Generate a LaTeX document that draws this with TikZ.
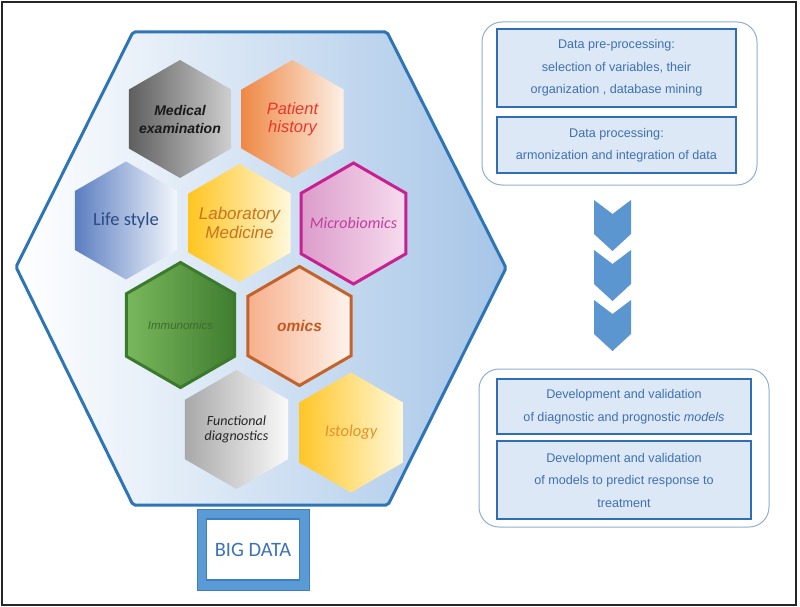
\documentclass[tikz,border=0pt]{standalone}
\usepackage{fontspec}
\setmainfont{Liberation Sans}
\newfontfamily\calibri{Carlito}
\usetikzlibrary{shapes.geometric}

\definecolor{frameblue}{HTML}{2E75B6}
\definecolor{bgblue}{HTML}{A6C5E7}
\definecolor{boxblue}{HTML}{2F6DB5}
\definecolor{boxfill}{HTML}{DCE8F5}
\definecolor{boxtext}{HTML}{4070B0}
\definecolor{groupline}{HTML}{8FAED3}
\definecolor{chevblue}{HTML}{5B96D0}
\definecolor{bigblue}{HTML}{5B9BD5}
\definecolor{bigline}{HTML}{3F7FC0}

\tikzset{
  hexa/.style={regular polygon, regular polygon sides=6, shape border rotate=30,
    minimum size=#1, inner sep=0pt},
  hexa/.default=118pt,
  hexlabel/.style={inner sep=0pt, align=center},
  infobox/.style={draw=boxblue, line width=2.5pt, fill=boxfill, text=boxtext,
    align=center, inner sep=0pt, font=\fontsize{12.6}{22.5}\selectfont},
  groupbox/.style={draw=groupline, line width=1pt, rounded corners=20pt}
}

\begin{document}
\begin{tikzpicture}[x=1pt,y=-1pt]
\useasboundingbox (0,0) rectangle (800,607);
\draw[line width=2.5pt, draw=black!85] (2,2) rectangle (796,605);

% big hexagon
\draw[line width=3pt, draw=frameblue, left color=white, right color=bgblue, rounded corners=2pt]
  (133,32) -- (387,32) -- (506,268) -- (388,505) -- (133,505) -- (16,267) -- cycle;

\node[hexa, left color=black!63, right color=black!19] (medical) at (180,119) {};
\node[hexlabel, text=black!90, font=\fontsize{14}{18}\selectfont\bfseries\itshape] (medicaltxt) at (medical) {Medical\\examination};
\node[hexa, left color={rgb,255:red,238;green,136;blue,69}, right color={rgb,255:red,253;green,240;blue,230}] (patient) at (292.5,119) {};
\node[hexlabel, text={rgb,255:red,232;green,56;blue,44}, font=\fontsize{16.5}{18}\selectfont\itshape] (patienttxt) at (patient) {Patient\\history};
\node[hexa, left color={rgb,255:red,91;green,126;blue,193}, right color={rgb,255:red,244;green,247;blue,252}] (lifestyle) at (126,220.5) {};
\node[hexlabel, text={rgb,255:red,43;green,75;blue,133}, font=\calibri\fontsize{18.5}{20}\selectfont] (lifestyletxt) at (lifestyle) {Life style};
\node[hexa, left color={rgb,255:red,255;green,197;blue,32}, right color={rgb,255:red,255;green,248;blue,220}] (labmed) at (239.5,223) {};
\node[hexlabel, text={rgb,255:red,200;green,115;blue,30}, font=\fontsize{17}{19.5}\selectfont\itshape] (labmedtxt) at (labmed) {Laboratory\\Medicine};
\node[hexa=121pt, draw={rgb,255:red,200;green,33;blue,143}, line width=3pt,
  left color={rgb,255:red,220;green,156;blue,203}, right color={rgb,255:red,246;green,220;blue,238}] (microbio) at (353.5,223.5) {};
\node[hexlabel, text={rgb,255:red,194;green,62;blue,158}, font=\calibri\fontsize{16}{18}\selectfont\itshape] (microbiotxt) at (microbio) {Microbiomics};
\node[hexa=125pt, draw={rgb,255:red,59;green,122;blue,44}, line width=3pt,
  left color={rgb,255:red,122;green,184;blue,92}, right color={rgb,255:red,63;green,125;blue,48}] (immuno) at (180.5,325) {};
\node[hexlabel, text={rgb,255:red,61;green,107;blue,48}, font=\fontsize{11.5}{13}\selectfont\itshape] (immunotxt) at (immuno) {Immunomics};
\node[hexa=119pt, draw={rgb,255:red,196;green,98;blue,44}, line width=3pt,
  left color={rgb,255:red,246;green,176;blue,140}, right color={rgb,255:red,255;green,244;blue,238}] (omics) at (299.5,326) {};
\node[hexlabel, text={rgb,255:red,196;green,88;blue,30}, font=\fontsize{15.5}{17}\selectfont\bfseries\itshape] (omicstxt) at (omics) {omics};
\node[hexa=119pt, left color=black!34, right color=black!2] (functional) at (236.5,429.5) {};
\node[hexlabel, text=black!85, font=\calibri\fontsize{14}{15}\selectfont\itshape] (functionaltxt) at (functional) {Functional\\diagnostics};
\node[hexa=120pt, left color={rgb,255:red,255;green,198;blue,40}, right color={rgb,255:red,255;green,248;blue,216}] (istology) at (351,432.5) {};
\node[hexlabel, text={rgb,255:red,224;green,146;blue,46}, font=\calibri\fontsize{16.5}{18}\selectfont\itshape] (istologytxt) at (istology) {Istology};

% big data box
\node[draw=bigline, line width=1pt, fill=bigblue, minimum width=112pt, minimum height=81pt] (bigframe) at (253,549.5) {};
\node[draw=bigline, line width=1.5pt, fill=white, minimum width=93pt, minimum height=61pt,
  text={rgb,255:red,60;green,114;blue,184}, font=\calibri\fontsize{20.4}{22}\selectfont] (bigdata) at (253,549.5) {BIG DATA};

% right side
\node[groupbox, minimum width=275pt, minimum height=163pt] (prepgroup) at (619.5,103.5) {};
\node[infobox, minimum width=239pt, minimum height=78pt] (preproc) at (616.5,68)
  {Data pre-processing:\\selection of variables, their\\organization , database mining};
\node[infobox, minimum width=239pt, minimum height=56pt] (proc) at (616.5,145)
  {Data processing:\\armonization and integration of data};

\foreach \t in {200,250,300}
  \fill[chevblue] (594,\t) -- (612.5,\t+14) -- (631,\t) -- (631,\t+34) -- (612.5,\t+51) -- (594,\t+34) -- cycle;

\node[groupbox, minimum width=290pt, minimum height=158pt] (modelgroup) at (624,448) {};
\node[infobox, minimum width=254pt, minimum height=55pt] (diagmodel) at (624,406.5)
  {Development and validation\\of diagnostic and prognostic \textit{models}};
\node[infobox, minimum width=254pt, minimum height=78pt] (respmodel) at (624,480)
  {Development and validation\\of models to predict response to\\treatment};
\end{tikzpicture}
\end{document}
